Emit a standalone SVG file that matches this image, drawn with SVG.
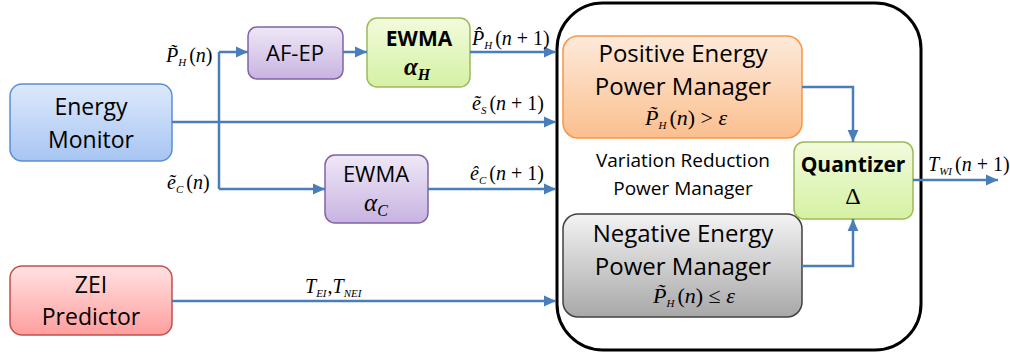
<svg xmlns="http://www.w3.org/2000/svg" width="1010" height="357" viewBox="0 0 1010 357">
<defs>
<linearGradient id="gBlue" x1="0" y1="0" x2="0" y2="1"><stop offset="0" stop-color="#dde9fb"/><stop offset="1" stop-color="#a7c5f3"/></linearGradient>
<linearGradient id="gPurple" x1="0" y1="0" x2="0" y2="1"><stop offset="0" stop-color="#efe8f7"/><stop offset="1" stop-color="#c8b3e1"/></linearGradient>
<linearGradient id="gGreen" x1="0" y1="0" x2="0" y2="1"><stop offset="0" stop-color="#f2fbdc"/><stop offset="1" stop-color="#d5f1a3"/></linearGradient>
<linearGradient id="gRed" x1="0" y1="0" x2="0" y2="1"><stop offset="0" stop-color="#ffe2e2"/><stop offset="1" stop-color="#ff9e9e"/></linearGradient>
<linearGradient id="gOrange" x1="0" y1="0" x2="0" y2="1"><stop offset="0" stop-color="#fdeadb"/><stop offset="1" stop-color="#fbbf8e"/></linearGradient>
<linearGradient id="gGray" x1="0" y1="0" x2="0" y2="1"><stop offset="0" stop-color="#f3f3f3"/><stop offset="1" stop-color="#a8a8a8"/></linearGradient>
<marker id="arr" markerUnits="userSpaceOnUse" markerWidth="12" markerHeight="12" viewBox="0 0 10 10" refX="10" refY="5" orient="auto">
<path d="M0,0.5 L10,5 L0,9.5 Z" fill="#4a7ebb"/>
</marker>
</defs>
<style>
.t{font-family:"Open Sans","Liberation Sans",sans-serif;fill:#000;text-anchor:middle}
.m{font-family:"Liberation Serif","Times New Roman",serif;font-size:20px;fill:#000}
.i{font-style:italic}
.s{font-style:italic;font-size:11px}
.c{fill:none;stroke:#4a7ebb;stroke-width:2.5}
</style>

<g id="vr-manager">
<rect x="557" y="3" width="364" height="347" rx="46" ry="46" fill="#fff" stroke="#000" stroke-width="3"/>
<text class="t" x="683" y="167" font-size="19">Variation Reduction</text>
<text class="t" x="683" y="195" font-size="19">Power Manager</text>
</g>

<g id="energy-monitor">
<rect x="10" y="84" width="162" height="77" rx="12" fill="url(#gBlue)" stroke="#5b8fd3" stroke-width="1.5"/>
<text class="t" x="91" y="115" font-size="23">Energy</text>
<text class="t" x="91" y="148" font-size="23">Monitor</text>
</g>

<g id="af-ep">
<rect x="248" y="27" width="95" height="52" rx="9" fill="url(#gPurple)" stroke="#8064a2" stroke-width="1.5"/>
<text class="t" x="295" y="61" font-size="22">AF-EP</text>
</g>

<g id="ewma-h">
<rect x="367" y="18" width="103" height="69" rx="10" fill="url(#gGreen)" stroke="#9bbb59" stroke-width="1.5"/>
<text class="t" x="419" y="46" font-size="21" font-weight="bold">EWMA</text>
<text class="m" x="404" y="75" style="font-size:25px;font-weight:bold;font-style:italic">α<tspan style="font-size:16px" dy="5">H</tspan></text>
</g>

<g id="ewma-c">
<rect x="325" y="155" width="103" height="68" rx="10" fill="url(#gPurple)" stroke="#8064a2" stroke-width="1.5"/>
<text class="t" x="376" y="182" font-size="22">EWMA</text>
<text class="m" x="364" y="211" style="font-size:25px;font-style:italic">α<tspan style="font-size:16px" dy="5">C</tspan></text>
</g>

<g id="zei-predictor">
<rect x="10" y="266" width="162" height="69" rx="12" fill="url(#gRed)" stroke="#c0504d" stroke-width="1.5"/>
<text class="t" x="91" y="293" font-size="23">ZEI</text>
<text class="t" x="91" y="325" font-size="23">Predictor</text>
</g>

<g id="positive-manager">
<rect x="563" y="36" width="239" height="102" rx="15" fill="url(#gOrange)" stroke="#f79646" stroke-width="1.5"/>
<text class="t" x="683" y="62" font-size="24">Positive Energy</text>
<text class="t" x="683" y="95" font-size="24">Power Manager</text>
<text class="m" x="645" y="125" style="font-size:22px"><tspan class="i">P̃</tspan><tspan class="s" dy="4">H</tspan><tspan dy="-4" dx="3">(</tspan><tspan class="i">n</tspan>) &gt; <tspan class="i">ε</tspan></text>
</g>

<g id="negative-manager">
<rect x="563" y="214" width="239" height="103" rx="15" fill="url(#gGray)" stroke="#404040" stroke-width="1.5"/>
<text class="t" x="683" y="242" font-size="24">Negative Energy</text>
<text class="t" x="683" y="275" font-size="24">Power Manager</text>
<text class="m" x="653" y="303" style="font-size:22px"><tspan class="i">P̃</tspan><tspan class="s" dy="4">H</tspan><tspan dy="-4" dx="3">(</tspan><tspan class="i">n</tspan>) ≤ <tspan class="i">ε</tspan></text>
</g>

<g id="quantizer">
<rect x="794" y="142" width="119" height="77" rx="10" fill="url(#gGreen)" stroke="#9bbb59" stroke-width="1.5"/>
<text class="t" x="853" y="172" font-size="21" font-weight="bold">Quantizer</text>
<text class="m" x="853" y="204" style="font-size:24px;text-anchor:middle">Δ</text>
</g>

<g id="connectors">
<path class="c" d="M172,122 H556" marker-end="url(#arr)"/>
<path class="c" d="M219,189 V52"/>
<path class="c" d="M219,52 H248" marker-end="url(#arr)"/>
<path class="c" d="M343,52 H367" marker-end="url(#arr)"/>
<path class="c" d="M470,52 H556" marker-end="url(#arr)"/>
<path class="c" d="M219,189 H325" marker-end="url(#arr)"/>
<path class="c" d="M428,189 H556" marker-end="url(#arr)"/>
<path class="c" d="M172,301 H556" marker-end="url(#arr)"/>
<path class="c" d="M802,87 H853 V142" marker-end="url(#arr)"/>
<path class="c" d="M802,266 H853 V219" marker-end="url(#arr)"/>
<path class="c" d="M913,180 H998" marker-end="url(#arr)"/>
</g>

<g id="labels">
<text class="m" x="166" y="62"><tspan class="i">P̃</tspan><tspan class="s" dy="4">H</tspan><tspan dy="-4" dx="3">(</tspan><tspan class="i">n</tspan>)</text>
<text class="m" x="167" y="189"><tspan class="i">ẽ</tspan><tspan class="s" dy="4">C</tspan><tspan dy="-4" dx="3">(</tspan><tspan class="i">n</tspan>)</text>
<text class="m" x="472" y="45"><tspan class="i">P̂</tspan><tspan class="s" dy="4">H</tspan><tspan dy="-4" dx="3">(</tspan><tspan class="i">n</tspan> + 1)</text>
<text class="m" x="472" y="110"><tspan class="i">ẽ</tspan><tspan class="s" dy="4">S</tspan><tspan dy="-4" dx="3">(</tspan><tspan class="i">n</tspan> + 1)</text>
<text class="m" x="470" y="180"><tspan class="i">ê</tspan><tspan class="s" dy="4">C</tspan><tspan dy="-4" dx="3">(</tspan><tspan class="i">n</tspan> + 1)</text>
<text class="m" x="305" y="293"><tspan class="i">T</tspan><tspan class="s" dy="4">EI</tspan><tspan dy="-4" dx="1">,</tspan><tspan class="i">T</tspan><tspan class="s" dy="4">NEI</tspan></text>
<text class="m" x="928" y="171"><tspan class="i">T</tspan><tspan class="s" dy="4">WI</tspan><tspan dy="-4" dx="3">(</tspan><tspan class="i">n</tspan> + 1)</text>
</g>
</svg>
